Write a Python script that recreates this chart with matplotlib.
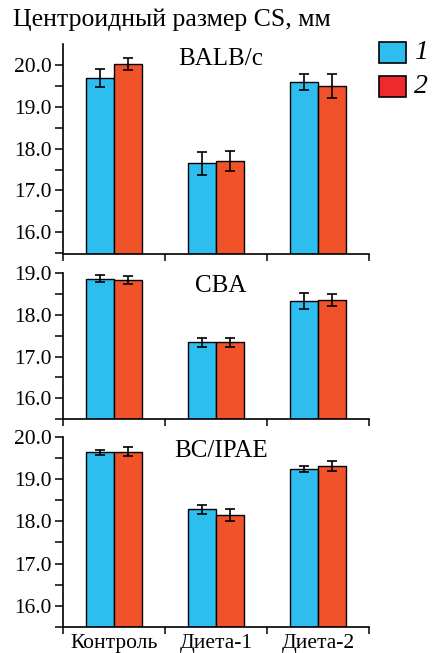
import numpy as np
import matplotlib
matplotlib.use("Agg")
import matplotlib.pyplot as plt
from matplotlib.patches import Rectangle
from matplotlib.ticker import MultipleLocator

plt.rcParams['font.family'] = ['Liberation Serif', 'DejaVu Serif']

categories = ['Контроль', 'Диета-1', 'Диета-2']
strains = ['BALB/c', 'CBA', 'BC/IPAE']
series_labels = ['1', '2']

# mean values, group 1 and group 2
balb_1 = [19.69, 17.65, 19.60]
balb_2 = [20.03, 17.70, 19.50]
cba_1 = [18.86, 17.34, 18.32]
cba_2 = [18.83, 17.34, 18.36]
bcipae_1 = [19.63, 18.28, 19.24]
bcipae_2 = [19.65, 18.15, 19.31]

# error half-widths
balb_1_err = [0.22, 0.27, 0.19]
balb_2_err = [0.14, 0.24, 0.28]
cba_1_err = [0.08, 0.10, 0.19]
cba_2_err = [0.09, 0.10, 0.14]
bcipae_1_err = [0.07, 0.10, 0.07]
bcipae_2_err = [0.10, 0.15, 0.11]

ylims = [(15.48, 20.49), (15.5, 19.0), (15.5, 20.0)]

blue = '#2DBDEF'
orange = '#F0522A'
legend_red = '#EE2A2C'

fig = plt.figure(figsize=(4.35, 6.53), dpi=100)
rects = [[0.145, 0.611, 0.703, 0.321],
         [0.145, 0.358, 0.703, 0.224],
         [0.145, 0.040, 0.703, 0.291]]

data = [(balb_1, balb_2, balb_1_err, balb_2_err),
        (cba_1, cba_2, cba_1_err, cba_2_err),
        (bcipae_1, bcipae_2, bcipae_1_err, bcipae_2_err)]

x = np.arange(len(categories)) + 0.5
w = 0.275

for i, (ax_rect, (v1, v2, e1, e2)) in enumerate(zip(rects, data)):
    ax = fig.add_axes(ax_rect)
    lo, hi = ylims[i]
    ax.bar(x - w/2, np.array(v1) - lo, w, bottom=lo, color=blue,
           edgecolor='black', linewidth=1.0, zorder=2)
    ax.bar(x + w/2, np.array(v2) - lo, w, bottom=lo, color=orange,
           edgecolor='black', linewidth=1.0, zorder=2)
    ax.errorbar(x - w/2, v1, yerr=e1, fmt='none', ecolor='black',
                elinewidth=1.2, capsize=3.8, capthick=1.2, zorder=3)
    ax.errorbar(x + w/2, v2, yerr=e2, fmt='none', ecolor='black',
                elinewidth=1.2, capsize=3.8, capthick=1.2, zorder=3)
    ax.set_xlim(0, 3)
    ax.set_ylim(lo, hi)
    ax.spines['right'].set_visible(False)
    ax.spines['top'].set_visible(False)
    ax.spines['left'].set_linewidth(1.2)
    ax.spines['bottom'].set_linewidth(1.2)
    ax.yaxis.set_major_locator(MultipleLocator(1.0))
    ax.yaxis.set_minor_locator(MultipleLocator(0.5))
    ax.yaxis.set_major_formatter(matplotlib.ticker.FormatStrFormatter('%.1f'))
    ax.tick_params(axis='y', which='both', direction='out', length=6,
                   width=1.1, labelsize=15.5, pad=2)
    ax.set_xticks([0, 1, 2, 3])
    ax.tick_params(axis='x', direction='out', length=5, width=1.1)
    if i == 2:
        ax.set_xticks(x, minor=True)
        ax.set_xticklabels(categories, minor=True, fontsize=15.5)
        ax.tick_params(axis='x', which='minor', length=0, pad=5)
    ax.set_xticklabels([])
    ax.text(0.515, 0.985, strains[i], transform=ax.transAxes,
            ha='center', va='top', fontsize=18)

fig.text(0.03, 0.987, 'Центроидный размер CS, мм', ha='left', va='top',
         fontsize=18.5)

# legend
for j, (c, lab) in enumerate(zip([blue, legend_red], series_labels)):
    y0 = 1 - (63 + j * 34) / 653
    fig.patches.append(Rectangle((379 / 435, y0), 27 / 435, 21 / 653,
                                 transform=fig.transFigure, facecolor=c,
                                 edgecolor='black', linewidth=1.2))
    fig.text(414 / 435, y0 + 10.5 / 653, lab, ha='left', va='center',
             fontsize=20, style='italic')

fig.savefig('out.png', dpi=100)
